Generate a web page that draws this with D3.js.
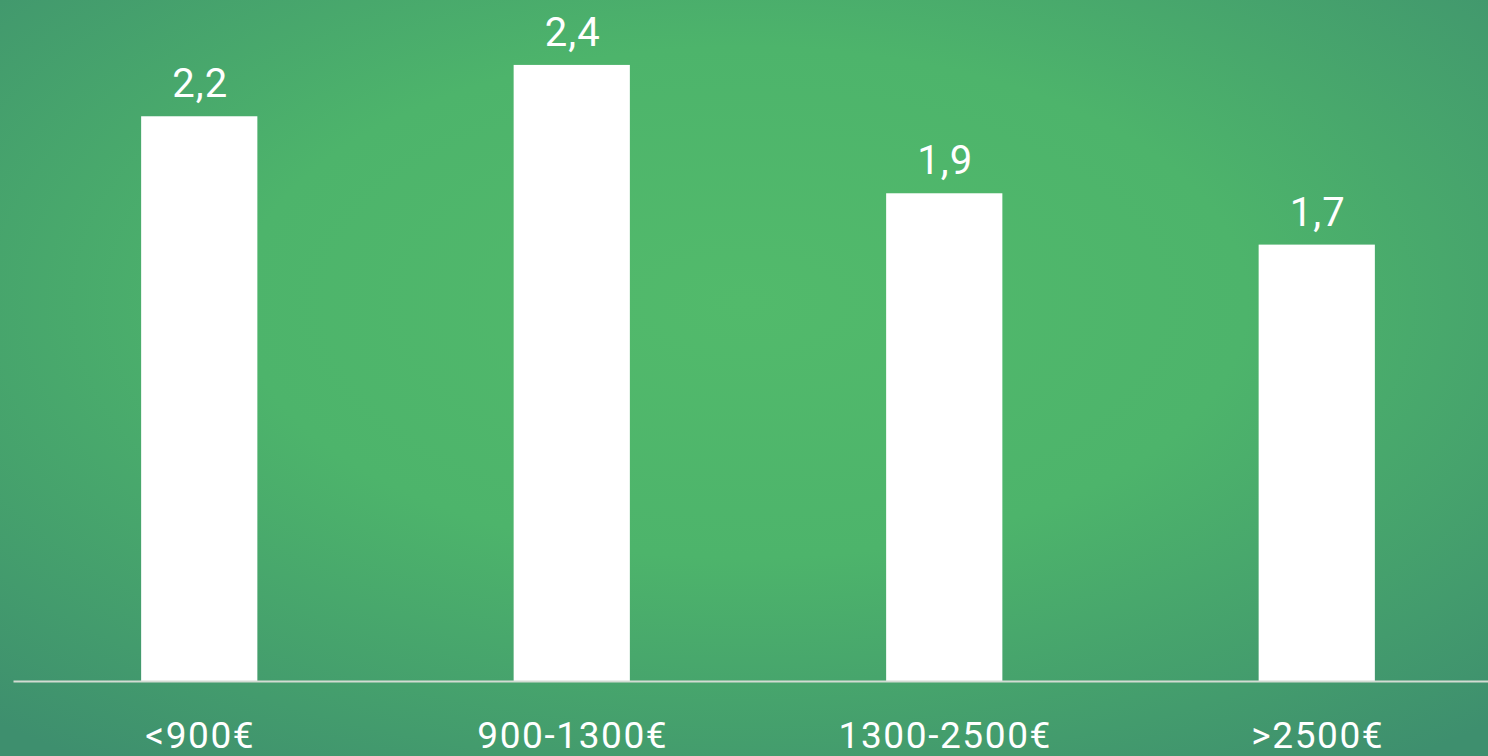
<!DOCTYPE html>
<html>
<head>
<meta charset="utf-8">
<script src="https://cdn.jsdelivr.net/npm/d3@7"></script>
<style>
  html, body { margin: 0; padding: 0; overflow: hidden; }
  svg { display: block; }
  text { font-family: Roboto, "Noto Sans", sans-serif; fill: #fff; }
</style>
</head>
<body>
<svg width="1488" height="756"></svg>
<script>
var categories = ["<900€", "900-1300€", "1300-2500€", ">2500€"];
var values = [2.2, 2.4, 1.9, 1.7];
var valueLabels = ["2,2", "2,4", "1,9", "1,7"];

var svg = d3.select("svg");
var width = 1488, height = 756;
var baseline = 681;

// background gradient
var defs = svg.append("defs");
var grad = defs.append("radialGradient")
    .attr("id", "bg")
    .attr("cx", "50%").attr("cy", "40%")
    .attr("r", "75%");
grad.append("stop").attr("offset", "0%").attr("stop-color", "#52ba6b");
grad.append("stop").attr("offset", "45%").attr("stop-color", "#4db46b");
grad.append("stop").attr("offset", "100%").attr("stop-color", "#3e8f6e");

svg.append("rect")
    .attr("width", width)
    .attr("height", height)
    .attr("fill", "url(#bg)");

// scales
var x = d3.scaleBand()
    .domain(categories)
    .range([13, 1503])
    .paddingInner(0.688)
    .paddingOuter(0.344);

var y = d3.scaleLinear()
    .domain([0, baseline / 256.7])
    .range([baseline, 0]);

var g = svg.append("g");

// bars
g.selectAll(".bar")
    .data(values)
    .enter().append("rect")
    .attr("class", "bar")
    .attr("x", function (d, i) { return x(categories[i]); })
    .attr("y", function (d) { return y(d); })
    .attr("width", x.bandwidth())
    .attr("height", function (d) { return y(0) - y(d); })
    .attr("fill", "#fff");

// value labels
g.selectAll(".val")
    .data(values)
    .enter().append("text")
    .attr("class", "val")
    .attr("x", function (d, i) { return x(categories[i]) + x.bandwidth() / 2 + 1; })
    .attr("y", function (d) { return y(d) - 19; })
    .attr("text-anchor", "middle")
    .style("font-size", "40px")
    .style("letter-spacing", "1px")
    .text(function (d, i) { return valueLabels[i]; });

// x axis
var axis = g.append("g")
    .attr("transform", "translate(0," + baseline + ")")
    .call(d3.axisBottom(x).tickSize(0).tickSizeOuter(0).tickPadding(41));

axis.select(".domain")
    .attr("stroke", "#d3dcd3")
    .attr("stroke-width", 2);

axis.selectAll("text")
    .attr("fill", "#fff")
    .attr("dx", "1px")
    .style("font-family", "Roboto, 'Noto Sans', sans-serif")
    .style("font-size", "37px")
    .style("letter-spacing", "1.6px");
</script>
</body>
</html>
